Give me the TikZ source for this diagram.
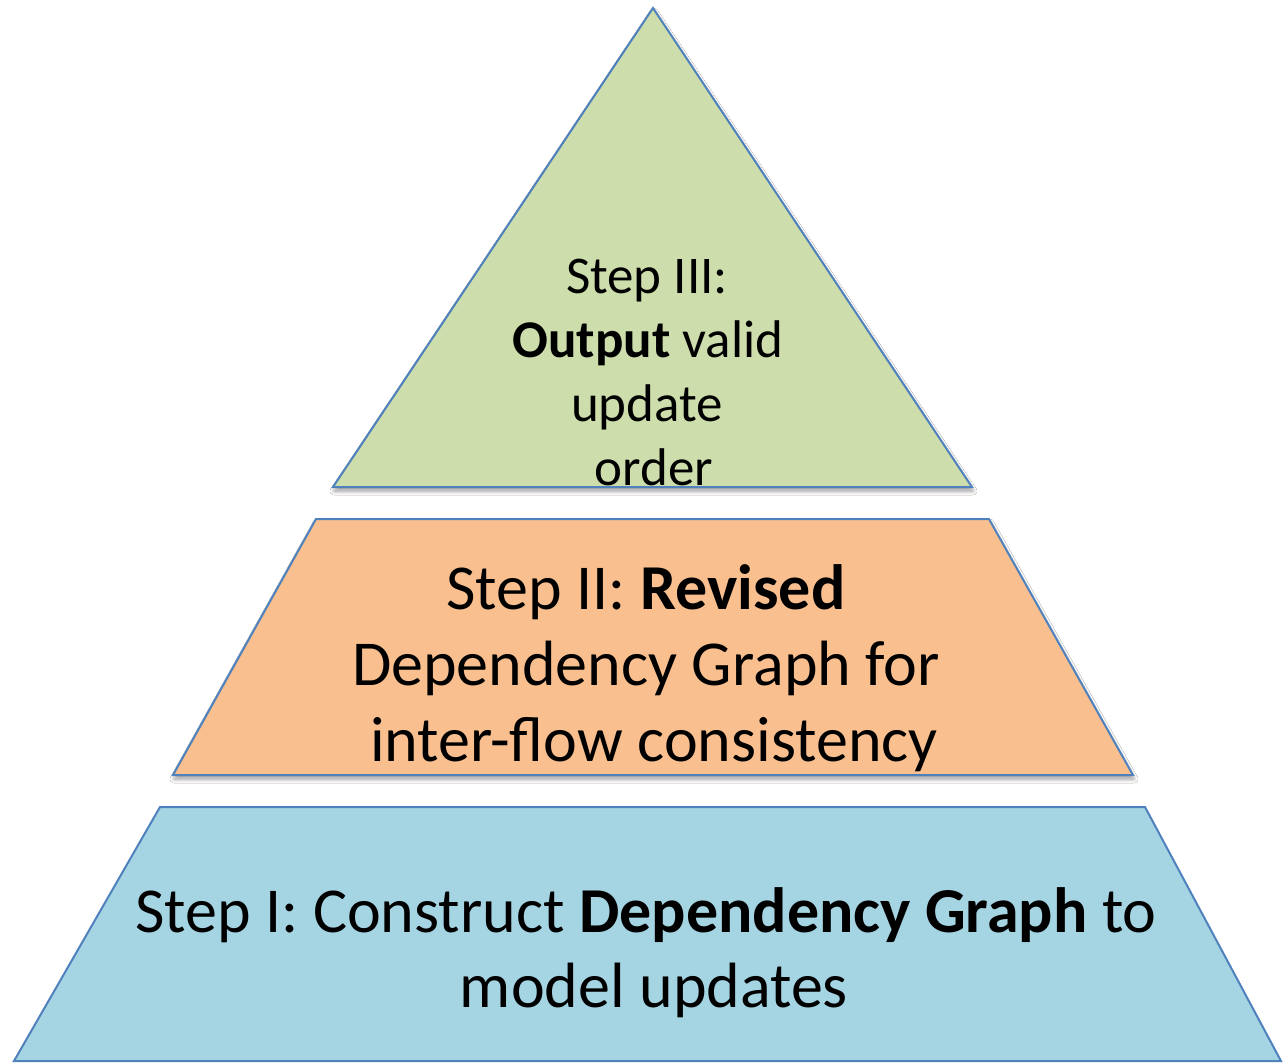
\documentclass[tikz,border=0pt]{standalone}
\usepackage{fontspec}
\setmainfont{Carlito}
\usetikzlibrary{shadows.blur}
\definecolor{edge}{HTML}{4F81BD}
\definecolor{topfill}{HTML}{CDDDAC}
\definecolor{midfill}{HTML}{F9BF8F}
\definecolor{lowfill}{HTML}{A5D5E3}
\tikzset{
  tier/.style={draw=edge, line width=2pt, line join=miter},
  tiershadow/.style={blur shadow={shadow xshift=1pt, shadow yshift=-4pt,
      shadow blur steps=6, shadow opacity=40, shadow blur radius=4pt}},
  smalltext/.style={font=\fontsize{53}{64}\selectfont, anchor=base, inner sep=0pt},
  largetext/.style={font=\fontsize{64}{76}\selectfont, anchor=base, inner sep=0pt}
}
\begin{document}
\begin{tikzpicture}[x=1pt,y=-1pt]
\useasboundingbox (0,0) rectangle (1283,1063);
\fill[white] (0,0) rectangle (1283,1063);

% bottom tier
\draw[tier, fill=lowfill] (160,807) -- (1145,807) -- (1281,1061) -- (14,1061) -- cycle;
% middle tier
\draw[tier, tiershadow, fill=midfill] (316,519) -- (989,519) -- (1133,775) -- (173,775) -- cycle;
% top tier
\draw[tier, tiershadow, fill=topfill] (653,8) -- (972,487) -- (333,487) -- cycle;

% top tier text
\node[smalltext] (t1) at (647,293) {Step III:};
\node[smalltext] (t2) at (648,357) {\textbf{Output} valid};
\node[smalltext] (t3) at (647,421) {update};
\node[smalltext] (t4) at (654,485) {order};

% middle tier text
\node[largetext] (m1) at (646,609) {Step II: \textbf{Revised}};
\node[largetext] (m2) at (646,685) {Dependency Graph for};
\node[largetext] (m3) at (654,761) {inter-flow consistency};

% bottom tier text
\node[largetext] (b1) at (646,932) {Step I: Construct \textbf{Dependency Graph} to};
\node[largetext] (b2) at (654,1007) {model updates};
\end{tikzpicture}
\end{document}
